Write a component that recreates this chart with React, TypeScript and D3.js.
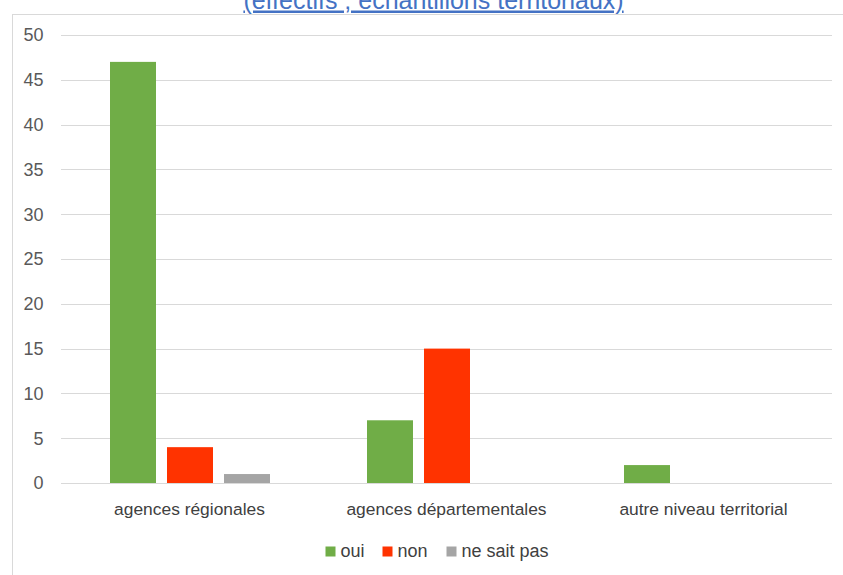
import React from "react";
import * as d3 from "d3";

const categories = ["agences régionales", "agences départementales", "autre niveau territorial"];
const seriesNames = ["oui", "non", "ne sait pas"];
const oui = [47, 7, 2];
const non = [4, 15, 0];
const nsp = [1, 0, 0];
const yTicks = [0, 5, 10, 15, 20, 25, 30, 35, 40, 45, 50];
const colors = ["#70AD47", "#FF3300", "#A5A5A5"];
const title = "(effectifs ; échantillons territoriaux)";

const W = 843;
const H = 575;
const FONT = "'Liberation Sans', Arial, sans-serif";

export default function App() {
  const values = [oui, non, nsp];
  const x0 = d3.scaleBand<string>().domain(categories).range([61, 832]).padding(0);
  const x1 = d3
    .scaleBand<string>()
    .domain(seriesNames)
    .range([49, 209])
    .paddingInner(11 / 57)
    .paddingOuter(0);
  const y = d3.scaleLinear().domain([0, 50]).range([483, 35]);

  const legendX = [325.5, 382.5, 446.5];

  return (
    <div style={{ position: "absolute", left: 0, top: 0 }}>
      <svg width={W} height={H} style={{ display: "block", background: "#fff" }}>
        <rect x={12.5} y={14.5} width={W} height={H} fill="#fff" stroke="#D9D9D9" strokeWidth={1} />
        <text
          x={433.5}
          y={8.5}
          textAnchor="middle"
          fontFamily={FONT}
          fontSize={25}
          fill="#4472C4"
          textDecoration="underline"
        >
          {title}
        </text>
        {yTicks.map((t) => (
          <g key={t}>
            <line x1={61} x2={832} y1={Math.round(y(t)) + 0.5} y2={Math.round(y(t)) + 0.5} stroke="#D9D9D9" strokeWidth={1} />
            <text
              x={43.5}
              y={y(t)}
              dy="0.36em"
              textAnchor="end"
              fontFamily={FONT}
              fontSize={18}
              fill="#595959"
            >
              {t}
            </text>
          </g>
        ))}
        {categories.map((c, ci) => (
          <g key={c}>
            {seriesNames.map((s, si) => {
              const v = values[si][ci];
              if (!v) return null;
              return (
                <rect
                  key={s}
                  x={(x0(c) as number) + (x1(s) as number)}
                  y={y(v)}
                  width={x1.bandwidth()}
                  height={y(0) - y(v)}
                  fill={colors[si]}
                />
              );
            })}
            <text
              x={(x0(c) as number) + x0.bandwidth() / 2}
              y={515}
              textAnchor="middle"
              fontFamily={FONT}
              fontSize={17.4}
              fill="#404040"
            >
              {c}
            </text>
          </g>
        ))}
        {seriesNames.map((s, i) => (
          <g key={s}>
            <rect x={legendX[i]} y={546.5} width={10} height={10} fill={colors[i]} />
            <text x={legendX[i] + 15} y={557} fontFamily={FONT} fontSize={18} fill="#404040">
              {s}
            </text>
          </g>
        ))}
      </svg>
    </div>
  );
}
